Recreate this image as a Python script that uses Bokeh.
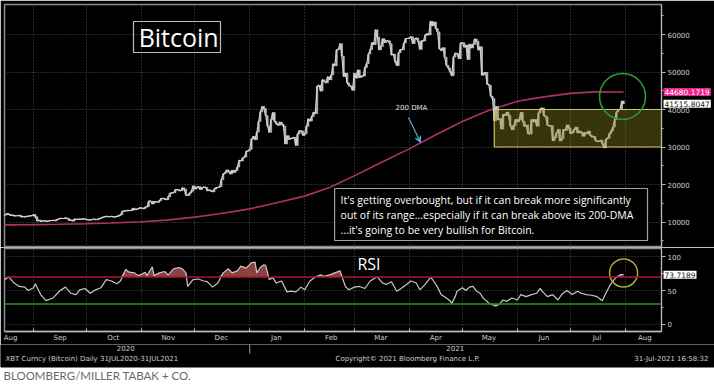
import numpy as np
import pandas as pd
from bokeh.plotting import figure
from bokeh.models import (Range1d, FixedTicker, Label, BoxAnnotation, Arrow, VeeHead, Span,
                          GridBox)
from bokeh.embed import file_html
from bokeh.resources import INLINE

EPOCH = pd.Timestamp("2020-07-31")


def day(s):
    return (pd.Timestamp(s) - EPOCH).days


# ---------------- data ----------------
price_start = "2020-08-14"
close_2020_08 = [11770, 11865, 11893, 12254, 11991, 11758, 11878, 11592, 11681, 11665, 11774, 11366,
                 11488, 11324, 11543, 11507, 11711, 11680]
close_2020_09 = [11970, 11414, 10245, 10511, 10169, 10280, 10370, 10131, 10243, 10364, 10400, 10443,
                 10324, 10681, 10797, 10975, 10948, 10944, 11094, 10939, 10463, 10538, 10246, 10761,
                 10692, 10750, 10776, 10709, 10845, 10785]
close_2020_10 = [10620, 10570, 10550, 10669, 10786, 10604, 10668, 10915, 11064, 11296, 11384, 11555,
                 11425, 11430, 11505, 11320, 11360, 11495, 11742, 11916, 12823, 12965, 12931, 13108,
                 13031, 13075, 13654, 13271, 13437, 13546, 13781]
close_2020_11 = [13737, 13550, 13950, 14133, 15579, 15565, 14833, 15479, 15332, 15290, 15701, 16276,
                 16317, 16068, 15955, 16716, 17645, 17804, 17817, 18621, 18642, 18370, 18364, 19107,
                 18732, 17150, 17108, 17718, 18177, 19625]
close_2020_12 = [18802, 19201, 19445, 18699, 19154, 19345, 19191, 18321, 18553, 18264, 18058, 18803,
                 19142, 19246, 19417, 21310, 22805, 23137, 23869, 23477, 22803, 23783, 23241, 23735,
                 24664, 26437, 26272, 27084, 27362, 28840, 29002]
close_2021_01 = [29374, 32127, 32782, 31971, 33992, 36824, 39371, 40797, 40254, 38356, 35566, 33922,
                 37316, 39187, 36825, 36178, 35792, 36630, 36069, 35547, 30825, 33005, 32067, 32289,
                 32366, 32569, 30432, 33466, 34316, 34269, 33114]
close_2021_02 = [33537, 35510, 37472, 36926, 38144, 39266, 38903, 46196, 46481, 44919, 47909, 47504,
                 47105, 48717, 47945, 49199, 52149, 51679, 55888, 56100, 57539, 54207, 48824, 49705,
                 47093, 46339, 46188, 45137]
close_2021_03 = [49631, 48378, 50538, 48561, 48927, 48912, 51206, 52246, 54824, 56008, 57805, 57332,
                 61243, 59302, 55907, 56804, 58870, 57858, 58346, 58313, 57523, 54529, 54738, 52774,
                 51704, 55137, 55974, 55948, 57750, 58918, 58918]
close_2021_04 = [59095, 59384, 57604, 58760, 59057, 58192, 56048, 58323, 58245, 59793, 60204, 59893,
                 63504, 62313, 63314, 61572, 60684, 56216, 55724, 56473, 53906, 51763, 51093, 50050,
                 49004, 54021, 55033, 54825, 53555, 57750]
close_2021_05 = [57828, 56632, 57200, 53333, 57424, 56397, 57357, 58804, 58233, 55859, 56704, 49150,
                 49717, 49881, 46760, 46456, 43538, 42910, 37002, 40782, 37305, 37537, 34771, 38706,
                 38403, 39295, 38437, 35697, 34617, 35678, 37333]
close_2021_06 = [36702, 37335, 39213, 36895, 35552, 35863, 33561, 33472, 37345, 36703, 37313, 35551,
                 39097, 40219, 40406, 38348, 38053, 35787, 35615, 35698, 31676, 32505, 33723, 34662,
                 31637, 32186, 34650, 34434, 35867, 35041]
close_2021_07 = [33572, 33897, 34668, 35287, 33746, 34235, 33855, 32877, 33799, 33520, 34240, 33155,
                 32702, 32822, 31780, 31421, 31533, 31796, 30817, 29807, 32110, 32314, 33581, 34292,
                 35350, 37337, 39406, 39995, 40008, 42235, 41515.8047]

dma_dates = ["2020-08-14", "2020-09-01", "2020-09-15", "2020-10-01", "2020-10-15", "2020-11-01",
             "2020-11-15", "2020-12-01", "2020-12-15", "2021-01-01", "2021-01-15", "2021-02-01",
             "2021-02-15", "2021-03-01", "2021-03-15", "2021-04-01", "2021-04-15", "2021-05-01",
             "2021-05-15", "2021-06-01", "2021-06-15", "2021-07-01", "2021-07-15", "2021-07-31"]
dma_values = [9230, 9300, 9400, 9550, 9750, 10050, 10500, 11300, 12200, 13500, 15000, 16900,
              19200, 22300, 25600, 29500, 33000, 36800, 39600, 42200, 43300, 44300, 44700, 44680.1719]

rsi_dates = ["2020-08-15", "2020-08-18", "2020-08-21", "2020-08-24", "2020-08-27", "2020-08-29",
             "2020-09-01", "2020-09-02", "2020-09-05", "2020-09-08", "2020-09-12", "2020-09-16",
             "2020-09-19", "2020-09-22", "2020-09-25", "2020-09-27", "2020-09-30", "2020-10-03",
             "2020-10-06", "2020-10-09", "2020-10-12", "2020-10-15", "2020-10-18", "2020-10-20",
             "2020-10-23", "2020-10-25", "2020-10-28", "2020-10-30", "2020-10-31", "2020-11-03",
             "2020-11-04", "2020-11-07", "2020-11-08", "2020-11-11", "2020-11-14", "2020-11-16",
             "2020-11-19", "2020-11-22", "2020-11-24", "2020-11-26", "2020-11-27", "2020-11-30",
             "2020-12-03", "2020-12-06", "2020-12-08", "2020-12-11", "2020-12-14", "2020-12-17",
             "2020-12-20", "2020-12-22", "2020-12-25", "2020-12-27", "2020-12-30", "2021-01-02",
             "2021-01-04", "2021-01-05", "2021-01-07", "2021-01-09", "2021-01-10", "2021-01-12",
             "2021-01-14", "2021-01-16", "2021-01-19", "2021-01-22", "2021-01-24", "2021-01-27",
             "2021-01-30", "2021-02-01", "2021-02-04", "2021-02-07", "2021-02-10", "2021-02-12",
             "2021-02-15", "2021-02-18", "2021-02-21", "2021-02-22", "2021-02-24", "2021-02-26",
             "2021-03-01", "2021-03-04", "2021-03-07", "2021-03-10", "2021-03-13", "2021-03-14",
             "2021-03-17", "2021-03-19", "2021-03-22", "2021-03-25", "2021-03-28", "2021-03-31",
             "2021-04-02", "2021-04-05", "2021-04-07", "2021-04-10", "2021-04-13", "2021-04-14",
             "2021-04-17", "2021-04-19", "2021-04-22", "2021-04-24", "2021-04-25", "2021-04-27",
             "2021-04-28", "2021-05-01", "2021-05-03", "2021-05-05", "2021-05-07", "2021-05-09",
             "2021-05-11", "2021-05-13", "2021-05-15", "2021-05-16", "2021-05-18", "2021-05-20",
             "2021-05-22", "2021-05-24", "2021-05-26", "2021-05-29", "2021-06-01", "2021-06-03",
             "2021-06-06", "2021-06-09", "2021-06-12", "2021-06-14", "2021-06-15", "2021-06-18",
             "2021-06-21", "2021-06-24", "2021-06-26", "2021-06-29", "2021-07-02", "2021-07-05",
             "2021-07-07", "2021-07-10", "2021-07-13", "2021-07-16", "2021-07-17", "2021-07-19",
             "2021-07-21", "2021-07-23", "2021-07-25", "2021-07-27", "2021-07-29", "2021-07-31"]
rsi_values = [65, 70, 61, 56, 55, 50,
              54, 60, 44, 35, 39, 50,
              55, 46, 44, 51, 53, 46,
              51, 54, 66, 64, 60, 64,
              81, 77, 76, 72, 73, 77,
              72, 85, 72, 76, 78, 73,
              82, 84, 82, 76, 56, 66,
              67, 64, 63, 55, 61, 76,
              82, 76, 79, 86, 83, 91,
              92, 76, 84, 88, 87, 66,
              69, 61, 64, 48, 49, 48,
              55, 51, 64, 70, 73, 71,
              73, 76, 79, 71, 56, 51,
              55, 56, 53, 64, 69, 70,
              61, 59, 63, 49, 54, 60,
              64, 61, 51, 59, 69, 67,
              55, 44, 39, 35, 31, 41,
              49, 54, 50, 55, 56, 49,
              46, 38, 34, 31, 29, 27,
              30, 36, 34, 39, 36, 44,
              41, 44, 46, 53, 49, 41,
              44, 36, 44, 50, 44, 49,
              46, 44, 43, 41, 39, 35,
              46, 56, 64, 70, 73, 73.7189]

range_low, range_high = 30000, 40000
range_start = "2021-05-19"
rsi_overbought, rsi_oversold = 70, 30
price_ticks = [10000, 20000, 30000, 40000, 50000, 60000]
price_minor = [5000, 15000, 25000, 35000, 45000, 55000, 65000]
rsi_ticks = [0, 50, 100]
rsi_minor = [25, 75]
month_starts = ["2020-08-01", "2020-09-01", "2020-10-01", "2020-11-01", "2020-12-01", "2021-01-01",
                "2021-02-01", "2021-03-01", "2021-04-01", "2021-05-01", "2021-06-01", "2021-07-01",
                "2021-08-01"]
month_label_dates = ["2020-08-19", "2020-09-16", "2020-10-16", "2020-11-16", "2020-12-16",
                     "2021-01-16", "2021-02-16", "2021-03-16", "2021-04-16", "2021-05-16",
                     "2021-06-16", "2021-07-16", "2021-08-12"]
month_labels = ["Aug", "Sep", "Oct", "Nov", "Dec", "Jan", "Feb", "Mar", "Apr", "May", "Jun", "Jul", "Aug"]
year_label_dates = ["2020-10-23", "2021-04-27"]
year_labels = ["2020", "2021"]
year_break = "2021-01-01"

# ---------------- derived ----------------
closes = np.array(close_2020_08 + close_2020_09 + close_2020_10 + close_2020_11 + close_2020_12 +
                  close_2021_01 + close_2021_02 + close_2021_03 + close_2021_04 + close_2021_05 +
                  close_2021_06 + close_2021_07, dtype=float)
p_days = np.arange(len(closes)) + day(price_start)
opens = np.concatenate([[closes[0]], closes[:-1]])
body_top = np.maximum(opens, closes)
body_bot = np.minimum(opens, closes)
dma_days = [day(d) for d in dma_dates]
rsi_days = np.array([day(d) for d in rsi_dates], dtype=float)
rsi_arr = np.array(rsi_values, dtype=float)
ms_days = [day(d) for d in month_starts]
ml_days = [day(d) for d in month_label_dates]

W = 714
X0, X1 = 15.6, 386.4
BL, BR = 4, 53
MAIN_H, MAIN_TOP = 247, 4
RSI_H, RSI_TOP, RSI_BOT = 97, 1, 12
FOOT_H = 40
GRID = "#505050"
AX = "#b8b8b8"
TXT = "#cfcfcf"
FONT = "DejaVu Sans"


def style_axis(ax):
    ax.axis_line_color = AX
    ax.major_tick_line_color = AX
    ax.minor_tick_line_color = AX
    ax.major_tick_out = 4
    ax.major_tick_in = 0
    ax.minor_tick_out = 2
    ax.minor_tick_in = 0
    ax.major_label_text_color = TXT
    ax.major_label_text_font = FONT
    ax.major_label_text_font_size = "7px"
    ax.major_label_standoff = 2


def style_grids(fig):
    fig.xgrid.ticker = FixedTicker(ticks=ms_days)
    for g in (fig.xgrid, fig.ygrid):
        g.grid_line_color = GRID
        g.grid_line_dash = "1 2"
        g.grid_line_width = 1


def overlay(height, y_range, top, bottom):
    o = figure(width=W, height=height, x_range=Range1d(0, W), y_range=y_range,
               x_axis_location=None, y_axis_location=None, output_backend="svg",
               toolbar_location=None, min_border_left=0, min_border_right=0,
               min_border_top=top, min_border_bottom=bottom,
               background_fill_alpha=0, border_fill_alpha=0, outline_line_color=None)
    o.frame_align = False
    o.xgrid.visible = False
    o.ygrid.visible = False
    return o


def tag(fig, yv, text, bg, fg):
    fig.add_layout(Label(x=W - BR + 2, y=yv, text=text, text_color=fg, background_fill_color=bg,
                         text_font=FONT, text_font_size="7.5px", text_baseline="middle",
                         padding=1))


# ---------------- main price panel ----------------
p = figure(width=W, height=MAIN_H, x_range=Range1d(X0, X1), y_range=Range1d(3200, 68000),
           x_axis_location=None, y_axis_location="right", output_backend="svg",
           toolbar_location=None, min_border_left=BL, min_border_right=BR,
           min_border_top=MAIN_TOP, min_border_bottom=0, background_fill_color="black",
           border_fill_color="black", outline_line_color="#8c8c8c", outline_line_width=1.5)
p.yaxis.ticker = FixedTicker(ticks=price_ticks, minor_ticks=price_minor)
style_axis(p.yaxis[0])
style_grids(p)

p.line(dma_days, dma_values, color="#b0306a", line_width=1.6)
p.vbar(x=p_days, width=0.75, top=body_top, bottom=body_bot, fill_color="#a8a8a8",
       line_color="#e0e0e0", line_width=0.6)
p.line(p_days, closes, color="#d2d2d2", line_width=1.1)

p.quad(left=[day(range_start)], right=[X1 + 5], bottom=[range_low], top=[range_high],
       fill_color="#8f8a1e", fill_alpha=0.38, line_color="#cfc86a", line_width=1.2)

p.scatter(x=[364.4], y=[43470], size=46, marker="circle", fill_color=None,
          line_color="#2c9a35", line_width=1.6)

p.add_layout(BoxAnnotation(left=88.4, right=137.5, top=63467, bottom=55200, fill_alpha=0,
                           line_color="#bdbdbd", line_alpha=1, line_width=1.2))
p.add_layout(Label(x=91.3, y=59330, text="Bitcoin", text_color="white", text_font="Open Sans",
                   text_font_size="25px", text_baseline="middle"))

p.add_layout(BoxAnnotation(left=201.9, right=378.5, top=18933, bottom=5067, fill_color="black",
                           fill_alpha=1, line_color="#a0a0a0", line_alpha=1, line_width=1.2))
comment = ["It's getting overbought, but if it can break more significantly",
           "out of its range...especially if it can break above its 200-DMA",
           "...it's going to be very bullish for Bitcoin."]
for line_text, yv in zip(comment, [16000, 12000, 8000]):
    p.add_layout(Label(x=205.3, y=yv, text=line_text, text_color="white", text_font="Open Sans",
                       text_font_size="10.5px", text_baseline="middle"))

p.add_layout(Label(x=245.3, y=40267, text="200 DMA", text_color="#e0e0e0", text_font=FONT,
                   text_font_size="7px", text_align="center", text_baseline="middle"))
p.add_layout(Arrow(end=VeeHead(size=6, line_color="#5aa7d6", fill_color="#5aa7d6", line_width=1),
                   x_start=243.6, y_start=37867, x_end=250.4, y_end=31200,
                   line_color="#5aa7d6", line_width=1.2))

pt = overlay(MAIN_H, p.y_range, MAIN_TOP, 0)
tag(pt, dma_values[-1], f"{dma_values[-1]:.4f}", "#e8248c", "white")
tag(pt, closes[-1], f"{closes[-1]:.4f}", "white", "#222222")

# ---------------- RSI panel ----------------
r = figure(width=W, height=RSI_H, x_range=p.x_range, y_range=Range1d(-10.5, 112),
           y_axis_location="right", output_backend="svg", toolbar_location=None,
           min_border_left=BL, min_border_right=BR, min_border_top=RSI_TOP,
           min_border_bottom=RSI_BOT, background_fill_color="black", border_fill_color="black",
           outline_line_color="#8c8c8c", outline_line_width=1.5)
r.yaxis.ticker = FixedTicker(ticks=rsi_ticks, minor_ticks=rsi_minor)
style_axis(r.yaxis[0])
style_grids(r)
xa = r.xaxis[0]
xa.ticker = FixedTicker(ticks=ml_days, minor_ticks=ms_days)
xa.major_label_overrides = {d: lab for d, lab in zip(ml_days, month_labels)}
xa.axis_line_color = AX
xa.axis_line_width = 1.5
xa.major_tick_line_color = None
xa.major_tick_out = 0
xa.major_tick_in = 0
xa.minor_tick_line_color = AX
xa.minor_tick_in = 3
xa.minor_tick_out = 0
xa.major_label_text_color = TXT
xa.major_label_text_font = FONT
xa.major_label_text_font_size = "7px"
xa.major_label_standoff = 2

r.varea(x=rsi_days, y1=np.full(len(rsi_arr), rsi_overbought),
        y2=np.maximum(rsi_arr, rsi_overbought), fill_color="#b05050", fill_alpha=0.8)
r.varea(x=rsi_days, y1=np.minimum(rsi_arr, rsi_oversold),
        y2=np.full(len(rsi_arr), rsi_oversold), fill_color="#3a9a3a", fill_alpha=0.8)
r.add_layout(Span(location=rsi_overbought, dimension="width", line_color="#a8182e", line_width=1.6))
r.add_layout(Span(location=rsi_oversold, dimension="width", line_color="#2f8f2f", line_width=1.4))
r.line(rsi_days, rsi_arr, color="#c8c8c8", line_width=1.2)
r.scatter(x=[365], y=[75.9], size=28, marker="circle", fill_color=None,
          line_color="#b4a63a", line_width=1.5)
r.add_layout(Label(x=214.8, y=105, text="RSI", text_color="white", text_font="Open Sans",
                   text_font_size="16px", text_baseline="top"))

rt = overlay(RSI_H, r.y_range, RSI_TOP, RSI_BOT)
tag(rt, rsi_arr[-1], f"{rsi_arr[-1]:.4f}", "white", "#222222")

# ---------------- footer ----------------
f = figure(width=W, height=FOOT_H, x_range=Range1d(0, W), y_range=Range1d(FOOT_H, 0),
           x_axis_location=None, y_axis_location=None, output_backend="svg",
           toolbar_location=None, min_border=0, background_fill_color="white",
           border_fill_color="white", outline_line_color=None)
f.frame_align = False
f.xgrid.visible = False
f.ygrid.visible = False
f.quad(left=[0], right=[W], top=[0], bottom=[22.5], color="black")
scale = (W - BL - BR) / (X1 - X0)


def fx(d):
    return BL + (d - X0) * scale


for d, lab in zip(year_label_dates, year_labels):
    f.add_layout(Label(x=fx(day(d)), y=3.5, text=lab, text_color=TXT, text_font=FONT,
                       text_font_size="7px", text_align="center", text_baseline="middle"))
f.segment(x0=[fx(day(year_break))], x1=[fx(day(year_break))], y0=[0], y1=[9],
          line_color="#9a9a9a", line_width=1)
f.add_layout(Label(x=5, y=14, text="XBT Curncy (Bitcoin)  Daily 31JUL2020-31JUL2021",
                   text_color=TXT, text_font=FONT, text_font_size="7px", text_baseline="middle"))
f.add_layout(Label(x=335, y=14, text="Copyright\u00a9 2021 Bloomberg Finance L.P.",
                   text_color=TXT, text_font=FONT, text_font_size="7px", text_baseline="middle"))
f.add_layout(Label(x=708, y=14, text="31-Jul-2021 16:58:32", text_color=TXT, text_font=FONT,
                   text_font_size="7px", text_align="right", text_baseline="middle"))
f.add_layout(Label(x=3, y=31, text="BLOOMBERG/MILLER TABAK + CO.", text_color="#6a6a6a",
                   text_font="Lato", text_font_size="11.5px", text_baseline="middle"))

layout = GridBox(children=[(p, 0, 0), (pt, 0, 0), (r, 1, 0), (rt, 1, 0), (f, 2, 0)], spacing=0)
open("out.html", "w").write(file_html(layout, INLINE))
